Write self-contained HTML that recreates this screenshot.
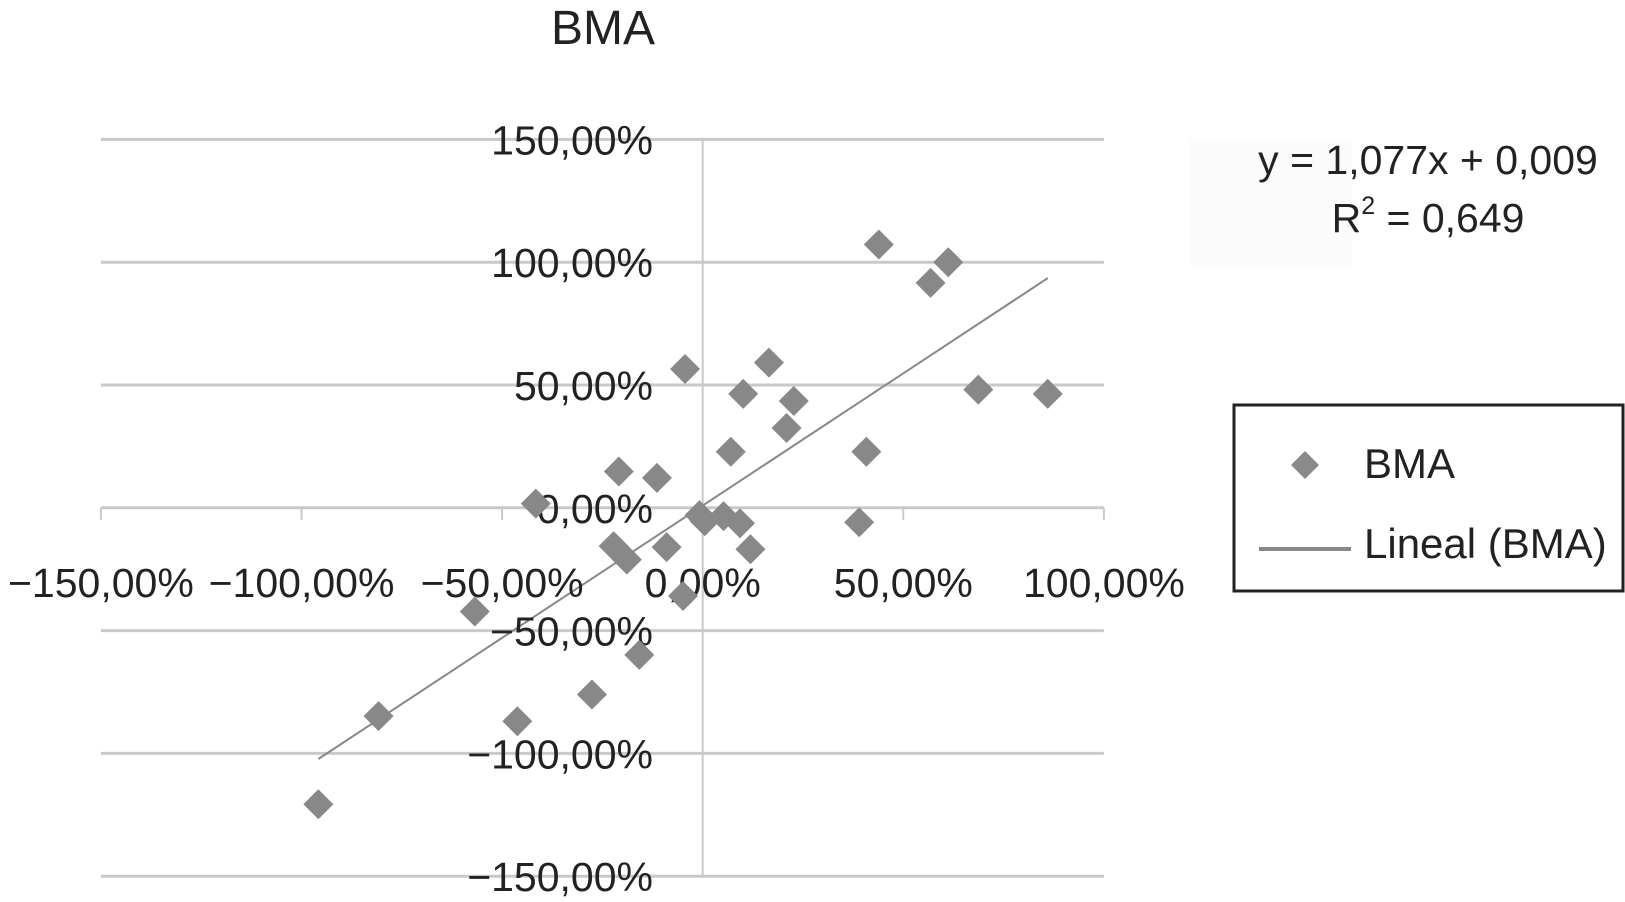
<!DOCTYPE html>
<html><head><meta charset="utf-8"><style>
html,body{margin:0;padding:0;background:#fff;}
svg{display:block;font-family:"Liberation Sans",sans-serif;}
</style></head><body>
<svg id="chart" width="1625" height="902" viewBox="0 0 1625 902">
<text x="603" y="44" font-size="48" text-anchor="middle" fill="#222">BMA</text>
<g id="grid"></g>
<g id="trend"></g>
<g id="labels"></g>
<g id="points"></g>
<rect x="1190" y="140" width="162" height="125" fill="#fbfbfb"/>
<text x="1428" y="174" font-size="41" text-anchor="middle" fill="#222">y = 1,077x + 0,009</text>
<text x="1428" y="232" font-size="41" text-anchor="middle" fill="#222">R<tspan dy="-18" font-size="25">2</tspan><tspan dy="18"> = 0,649</tspan></text>
<g>
<rect x="1234" y="405" width="389" height="186" fill="#fff" stroke="#222" stroke-width="3"/>
<path d="M1305,451 L1319,465 L1305,479 L1291,465 Z" fill="#8a8a8a"/>
<text x="1364" y="478" font-size="42" fill="#222">BMA</text>
<line x1="1259" y1="549" x2="1351" y2="549" stroke="#888" stroke-width="4"/>
<text x="1364" y="558" font-size="42" fill="#222">Lineal (BMA)</text>
</g>
</svg>
<script>
const xTicks=[-150,-100,-50,0,50,100];
const yTicks=[150,100,50,0,-50,-100,-150];
const xTickLabels=["\u2212150,00%","\u2212100,00%","\u221250,00%","0,00%","50,00%","100,00%"];
const yTickLabels=["150,00%","100,00%","50,00%","0,00%","\u221250,00%","\u2212100,00%","\u2212150,00%"];
const xVals=[43.9,61.2,56.8,68.7,86,-4.4,16.5,10.1,22.7,20.9,7,40.8,-20.9,-11.4,-41.6,39,-0.8,0.5,5.2,9.3,11.9,-9,-22.2,-18.9,-4.9,-56.8,-15.8,-27.6,-46.2,-80.8,-95.8];
const yVals=[107.2,100,91.6,48.1,46.4,56.5,59.1,46.4,43.5,32.5,22.8,22.8,14.8,12.2,1.7,-5.9,-3,-5.5,-3.4,-6.3,-16.9,-16,-15.6,-21.1,-35.9,-42.2,-59.9,-76,-86.9,-84.8,-120.7];
const slope=1.077, intercept=0.9;
const trendX=[-95.8,86];
const NS="http://www.w3.org/2000/svg";
const X=v=>702.7+v*200.6/50;
const Y=v=>507.8-v*122.8/50;
function mk(tag,attrs,parent){const e=document.createElementNS(NS,tag);for(const k in attrs)e.setAttribute(k,attrs[k]);parent.appendChild(e);return e;}
const grid=document.getElementById('grid');
yTicks.forEach(t=>{
  const l=mk('line',{x1:X(-150),x2:X(100),y1:Y(t),y2:Y(t),stroke:'#c9c9c9','stroke-width':3},grid);
  
  
});
const va=mk('line',{x1:X(0),x2:X(0),y1:Y(150),y2:Y(-150),stroke:'#c9c9c9','stroke-width':2},grid);


xTicks.forEach(t=>{
  const l=mk('line',{x1:X(t),x2:X(t),y1:Y(0),y2:Y(0)+12,stroke:'#c9c9c9','stroke-width':2},grid);
  
  
});
const tr=document.getElementById('trend');
const tl=mk('line',{x1:X(trendX[0]),y1:Y(slope*trendX[0]+intercept),x2:X(trendX[1]),y2:Y(slope*trendX[1]+intercept),stroke:'#888','stroke-width':2},tr);


const lab=document.getElementById('labels');
yTicks.forEach((t,i)=>{
  const tx=mk('text',{x:653,y:Y(t)+15,'font-size':41,'text-anchor':'end',fill:'#222'},lab);
  tx.textContent=yTickLabels[i];
  
  
});
xTicks.forEach((t,i)=>{
  const tx=mk('text',{x:X(t),y:597,'font-size':41,'text-anchor':'middle',fill:'#222'},lab);
  tx.textContent=xTickLabels[i];
  
  
});
const pts=document.getElementById('points');
xVals.forEach((v,i)=>{
  const cx=X(v),cy=Y(yVals[i]),r=15;
  const p=mk('path',{d:`M${cx},${cy-r} L${cx+r},${cy} L${cx},${cy+r} L${cx-r},${cy} Z`,fill:'#888'},pts);
  
  
});
</script>
</body></html>
